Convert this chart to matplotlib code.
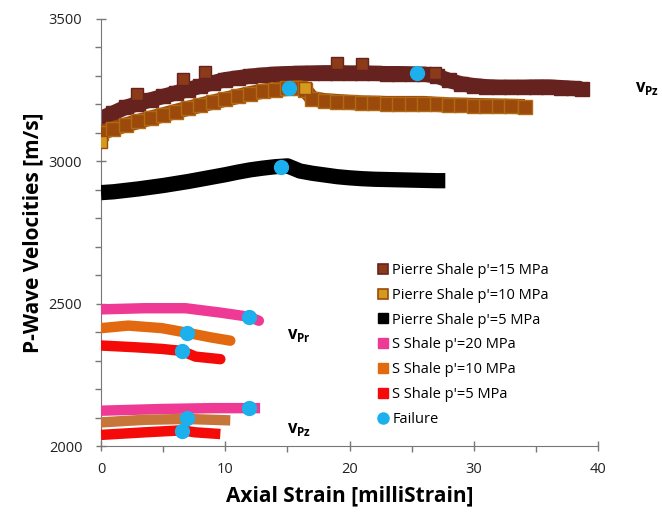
"""P-wave velocity vs axial strain for Pierre Shale and S Shale."""

import matplotlib

matplotlib.use("Agg")
import matplotlib.pyplot as plt
from matplotlib.lines import Line2D
from matplotlib.ticker import MultipleLocator

# Pierre Shale p'=15 MPa
p15_x = [0, 1, 2, 3, 4, 5, 6, 7, 8, 9, 10, 11, 12, 13, 14, 15, 16, 17, 18, 19,
         20, 21, 22, 23, 24, 25, 26, 27, 28, 29, 30, 31, 32, 33, 34, 35, 36, 37, 38, 38.7]
p15_y = [3151, 3170, 3190, 3203, 3216, 3228, 3240, 3252, 3264, 3276, 3287, 3293, 3299, 3303,
         3306, 3308, 3309, 3310, 3311, 3311, 3310, 3310, 3309, 3308, 3308, 3307, 3306, 3300,
         3284, 3272, 3266, 3262, 3260, 3260, 3260, 3261, 3261, 3259, 3256, 3254]
p15_out_x = [2.9, 6.6, 8.4, 19.0, 21.0, 26.9]
p15_out_y = [3237, 3288, 3314, 3346, 3341, 3310]

# Pierre Shale p'=10 MPa
p10_x = [0, 1, 2, 3, 4, 5, 6, 7, 8, 9, 10, 11, 12, 13, 14, 15, 16, 16.4, 17, 18, 19,
         20, 21, 22, 23, 24, 25, 26, 27, 28, 29, 30, 31, 32, 33, 34.1]
p10_y = [3100, 3115, 3128, 3140, 3152, 3163, 3175, 3186, 3197, 3208, 3218, 3228, 3238, 3246,
         3252, 3256, 3259, 3252, 3220, 3213, 3210, 3207, 3205, 3204, 3203, 3203, 3203, 3203,
         3200, 3198, 3197, 3196, 3195, 3194, 3193, 3192]
p10_out_x = [0, 16.4]
p10_out_y = [3069, 3259]

# Pierre Shale p'=5 MPa
p5_x = [0, 1, 2, 3, 4, 5, 6, 7, 8, 9, 10, 11, 12, 13, 14, 15, 15.5, 16, 17, 18, 19,
        20, 21, 22, 23, 24, 25, 26, 27, 27.7]
p5_y = [2890, 2893, 2898, 2903, 2909, 2915, 2922, 2929, 2937, 2945, 2953, 2962, 2970, 2976,
        2981, 2984, 2975, 2966, 2958, 2952, 2946, 2942, 2939, 2937, 2936, 2935, 2934, 2933,
        2932, 2932]

# S Shale, v_Pr branch
s20r_x = [0, 3.5, 6.8, 9.7, 11.9, 12.7]
s20r_y = [2480, 2484, 2484, 2468, 2454, 2440]
s10r_x = [0, 2.2, 4.9, 6.9, 8.9, 10.4]
s10r_y = [2414, 2423, 2414, 2398, 2381, 2370]
s5r_x = [0, 2.7, 4.9, 6.5, 7.6, 9.6]
s5r_y = [2353, 2347, 2341, 2334, 2314, 2305]

# S Shale, v_Pz branch
s20z_x = [0, 4.9, 8.9, 12.8]
s20z_y = [2124, 2130, 2133, 2133]
s10z_x = [0, 3.5, 6.9, 10.4]
s10z_y = [2083, 2092, 2095, 2090]
s5z_x = [0, 3.5, 6.5, 7.6, 9.6]
s5z_y = [2039, 2048, 2055, 2048, 2042]

fail_x = [25.4, 15.1, 14.5, 11.9, 6.9, 6.5, 11.9, 6.9, 6.5]
fail_y = [3311, 3257, 2981, 2454, 2396, 2334, 2135, 2097, 2053]

plt.rcParams["font.family"] = ["Open Sans", "DejaVu Sans"]
plt.rcParams["mathtext.fontset"] = "custom"
plt.rcParams["mathtext.bf"] = "Open Sans:bold"
plt.rcParams["mathtext.rm"] = "Open Sans"

fig = plt.figure(figsize=(6.62, 5.13), dpi=100)
ax = fig.add_axes([0.1526, 0.1306, 0.751, 0.8324])

C15_FACE, C15_EDGE = "#8B3A1A", "#66221E"
C10_FACE, C10_EDGE = "#D49A1E", "#9C4A0C"

ax.plot(p15_x, p15_y, color=C15_EDGE, lw=11, solid_capstyle="butt", zorder=2)
ax.plot(p15_x, p15_y, ls="none", marker="s", ms=10, mfc=C15_EDGE, mec=C15_EDGE, zorder=2)
ax.plot(p15_out_x, p15_out_y, ls="none", marker="s", ms=8, mfc=C15_FACE, mec=C15_EDGE,
        mew=1, zorder=2)

ax.plot(p10_x, p10_y, color=C10_EDGE, lw=11, solid_capstyle="butt", zorder=3)
ax.plot(p10_x, p10_y, ls="none", marker="s", ms=10, mfc=C10_EDGE, mec="#B06A14", mew=1, zorder=3)
ax.plot(p10_out_x, p10_out_y, ls="none", marker="s", ms=8, mfc=C10_FACE, mec=C10_EDGE,
        mew=1, zorder=3)

ax.plot(p5_x, p5_y, color="black", lw=11, solid_capstyle="butt", zorder=3)

lw_s = 7.5
ax.plot(s20r_x, s20r_y, color="#EE3A95", lw=lw_s, solid_capstyle="round", zorder=3)
ax.plot(s10r_x, s10r_y, color="#E2690F", lw=lw_s, solid_capstyle="round", zorder=3)
ax.plot(s5r_x, s5r_y, color="#F50A0A", lw=lw_s, solid_capstyle="round", zorder=3)
ax.plot(s20z_x, s20z_y, color="#EE3A95", lw=lw_s, solid_capstyle="butt", zorder=3)
ax.plot(s10z_x, s10z_y, color="#C8753A", lw=lw_s, solid_capstyle="butt", zorder=3)
ax.plot(s5z_x, s5z_y, color="#F50A0A", lw=lw_s, solid_capstyle="butt", zorder=3)

ax.plot(fail_x, fail_y, ls="none", marker="o", ms=10, color="#1CB0EC", zorder=5)

ax.set_xlim(0, 40)
ax.set_ylim(2000, 3500)
ax.xaxis.set_major_locator(MultipleLocator(10))
ax.xaxis.set_minor_locator(MultipleLocator(5))
ax.yaxis.set_major_locator(MultipleLocator(500))
ax.yaxis.set_minor_locator(MultipleLocator(100))
ax.tick_params(which="major", direction="inout", length=7, width=1, color="#777777",
               labelsize=10.5, labelcolor="#222222")
ax.tick_params(which="minor", direction="out", length=4, width=1, color="#777777")
ax.tick_params(axis="x", pad=8)
ax.tick_params(axis="y", pad=10)
for side in ("top", "right"):
    ax.spines[side].set_visible(False)
for side in ("left", "bottom"):
    ax.spines[side].set_color("#777777")

ax.set_xlabel("Axial Strain [milliStrain]", fontsize=15, fontweight="bold", labelpad=6)
ax.set_ylabel("P-Wave Velocities [m/s]", fontsize=15, fontweight="bold", labelpad=4)

ax.text(43.0, 3244, r"$\mathbf{v}_{\mathbf{Pz}}$", fontsize=12, clip_on=False)
ax.text(15.0, 2375, r"$\mathbf{v}_{\mathbf{Pr}}$", fontsize=12)
ax.text(15.0, 2045, r"$\mathbf{v}_{\mathbf{Pz}}$", fontsize=12)

handles = [
    Line2D([], [], ls="none", marker="s", ms=7, mfc=C15_FACE, mec=C15_EDGE, mew=1.2),
    Line2D([], [], ls="none", marker="s", ms=7, mfc=C10_FACE, mec=C10_EDGE, mew=1.2),
    Line2D([], [], ls="none", marker="s", ms=7, mfc="black", mec="black"),
    Line2D([], [], ls="none", marker="s", ms=7, mfc="#EE3A95", mec="#EE3A95"),
    Line2D([], [], ls="none", marker="s", ms=7, mfc="#E2690F", mec="#E2690F"),
    Line2D([], [], ls="none", marker="s", ms=7, mfc="#F50A0A", mec="#F50A0A"),
    Line2D([], [], ls="none", marker="o", ms=8, mfc="#1CB0EC", mec="#1CB0EC"),
]
labels = ["Pierre Shale p'=15 MPa", "Pierre Shale p'=10 MPa", "Pierre Shale p'=5 MPa",
          "S Shale p'=20 MPa", "S Shale p'=10 MPa", "S Shale p'=5 MPa", "Failure"]
ax.legend(handles, labels, loc="upper left", bbox_to_anchor=(0.53, 0.46), frameon=False,
          fontsize=10.5, labelspacing=0.68, handlelength=0.7, handletextpad=0.3)

fig.savefig("out.png", dpi=100)
